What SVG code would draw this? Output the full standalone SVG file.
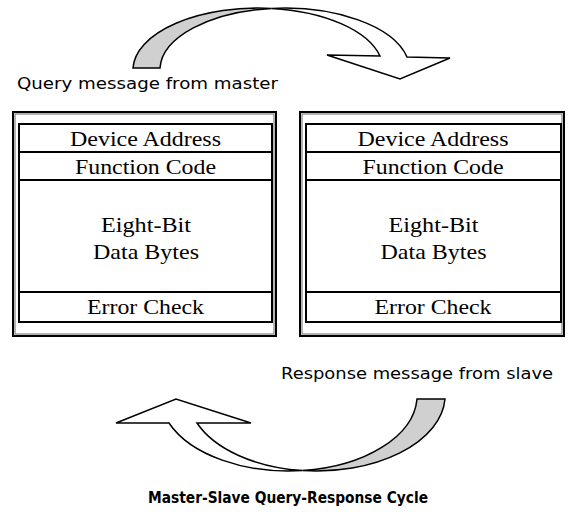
<svg xmlns="http://www.w3.org/2000/svg" width="568" height="523" viewBox="0 0 568 523">
  <style>
    .frame{fill:#fff;stroke:#000;stroke-width:2}
    .frame-in{fill:none;stroke:#9a9a9a;stroke-width:1.5}
    .table{fill:none;stroke:#000;stroke-width:2}
    .row{stroke:#000;stroke-width:2}
    .field{font-family:"Liberation Serif","Times New Roman",serif;font-size:21px;text-anchor:middle;fill:#000}
    .label{font-family:"DejaVu Sans",Tahoma,sans-serif;font-size:16px;fill:#000}
    .title{font-family:"DejaVu Sans",Tahoma,sans-serif;font-size:16px;font-weight:bold;text-anchor:middle;fill:#000}
    .arrow-front{fill:#fff;stroke:#000;stroke-width:1.5;stroke-linejoin:miter}
    .arrow-back{fill:#d0d0d0;stroke:#000;stroke-width:1.5}
  </style>

  <!-- curved arrows between the two frames -->
  <g id="connectors">
    <g id="query-arrow">
      <path class="arrow-back" d="M133,68 A125.2,62 0 0 1 271.6,8.4 A125.2,62 0 0 0 160,68 Z"/>
      <path class="arrow-front" d="M271.6,8.4 A125.2,62 0 0 1 407,57 L450,58 L400,79 L327,55 L380,56 A125.2,62 0 0 0 271.6,8.4 Z"/>
    </g>
    <g id="response-arrow">
      <path class="arrow-front" d="M169,423 A128.6,76 0 0 0 302.6,470.6 A128.6,76 0 0 1 197,423 L251,423 L176,399 L116,423 Z"/>
      <path class="arrow-back" d="M302.6,470.6 A128.6,76 0 0 0 445,399 L417,399 A128.6,76 0 0 1 302.6,470.6 Z"/>
    </g>
  </g>

  <text id="query-label" class="label" x="17" y="89" textLength="261" lengthAdjust="spacingAndGlyphs">Query message from master</text>

  <!-- master frame -->
  <g id="master-frame">
    <rect class="frame" x="13" y="112" width="263" height="224"/>
    <rect class="frame-in" x="15" y="114" width="259" height="220"/>
    <rect class="table" x="19" y="124" width="253" height="198"/>
    <line class="row" x1="19" y1="152" x2="272" y2="152"/>
    <line class="row" x1="19" y1="180" x2="272" y2="180"/>
    <line class="row" x1="19" y1="292" x2="272" y2="292"/>
    <text class="field" x="145.5" y="146" textLength="151" lengthAdjust="spacingAndGlyphs">Device Address</text>
    <text class="field" x="145.5" y="174" textLength="141" lengthAdjust="spacingAndGlyphs">Function Code</text>
    <text class="field" x="146" y="232" textLength="90" lengthAdjust="spacingAndGlyphs">Eight-Bit</text>
    <text class="field" x="146" y="259" textLength="106" lengthAdjust="spacingAndGlyphs">Data Bytes</text>
    <text class="field" x="145.5" y="314" textLength="117" lengthAdjust="spacingAndGlyphs">Error Check</text>
  </g>

  <!-- slave frame -->
  <g id="slave-frame">
    <rect class="frame" x="300" y="112" width="264" height="224"/>
    <rect class="frame-in" x="302" y="114" width="260" height="220"/>
    <rect class="table" x="306" y="124" width="255" height="198"/>
    <line class="row" x1="306" y1="152" x2="561" y2="152"/>
    <line class="row" x1="306" y1="180" x2="561" y2="180"/>
    <line class="row" x1="306" y1="292" x2="561" y2="292"/>
    <text class="field" x="433" y="146" textLength="151" lengthAdjust="spacingAndGlyphs">Device Address</text>
    <text class="field" x="433" y="174" textLength="141" lengthAdjust="spacingAndGlyphs">Function Code</text>
    <text class="field" x="433.5" y="232" textLength="90" lengthAdjust="spacingAndGlyphs">Eight-Bit</text>
    <text class="field" x="433.5" y="259" textLength="106" lengthAdjust="spacingAndGlyphs">Data Bytes</text>
    <text class="field" x="433" y="314" textLength="117" lengthAdjust="spacingAndGlyphs">Error Check</text>
  </g>

  <text id="response-label" class="label" x="281" y="379" textLength="272" lengthAdjust="spacingAndGlyphs">Response message from slave</text>

  <text id="caption" class="title" x="288" y="503" textLength="280" lengthAdjust="spacingAndGlyphs">Master-Slave Query-Response Cycle</text>
</svg>
